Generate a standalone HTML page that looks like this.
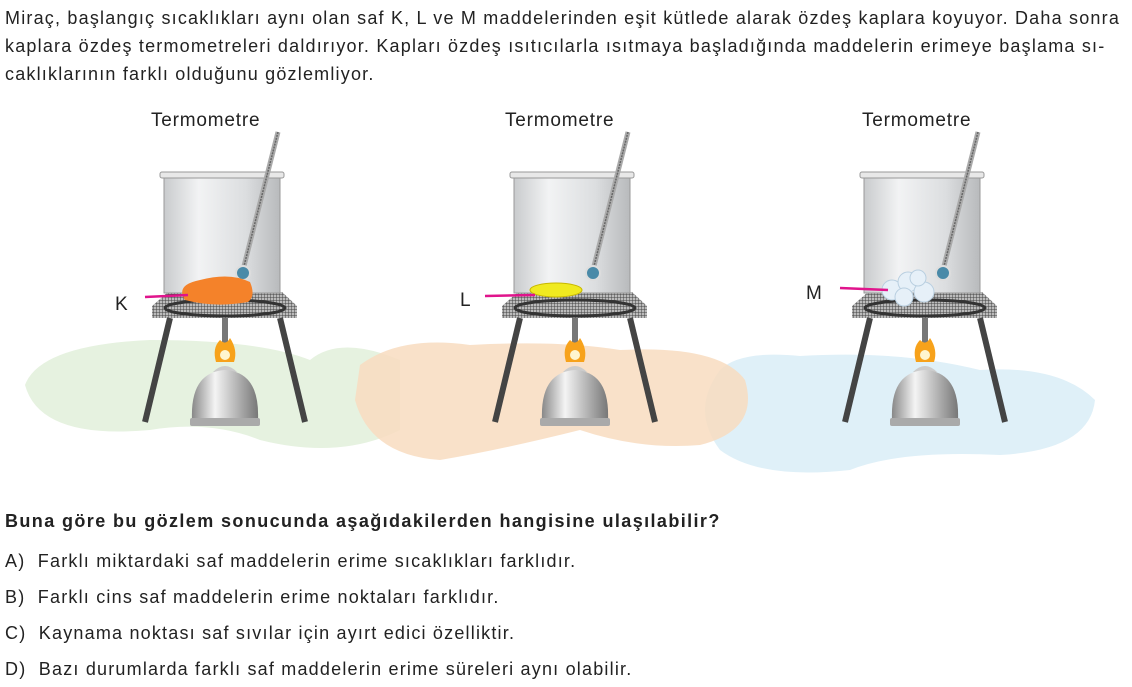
<!DOCTYPE html>
<html><head><meta charset="utf-8"><style>
body{margin:0;width:1132px;height:687px;background:#fff;font-family:"Liberation Sans",Arial,sans-serif;color:#222;position:relative;overflow:hidden}
.p{position:absolute;left:5px;font-size:18px;line-height:28px;white-space:nowrap;letter-spacing:1.2px}
</style></head><body>
<div class="p" style="top:4px">Miraç, başlangıç sıcaklıkları aynı olan saf K, L ve M maddelerinden eşit kütlede alarak özdeş kaplara koyuyor. Daha sonra</div>
<div class="p" style="top:32px">kaplara özdeş termometreleri daldırıyor. Kapları özdeş ısıtıcılarla ısıtmaya başladığında maddelerin erimeye başlama sı-</div>
<div class="p" style="top:60px">caklıklarının farklı olduğunu gözlemliyor.</div>
<svg style="position:absolute;left:0;top:0" width="1132" height="500">
<defs>
<linearGradient id="gl" x1="0" x2="1"><stop offset="0" stop-color="#c9cbcd"/><stop offset=".3" stop-color="#f2f3f4"/><stop offset=".7" stop-color="#dcdee0"/><stop offset="1" stop-color="#b8babc"/></linearGradient>
<linearGradient id="bn" x1="0" x2="1"><stop offset="0" stop-color="#888"/><stop offset=".35" stop-color="#f4f4f4"/><stop offset="1" stop-color="#777"/></linearGradient>
<pattern id="mesh" width="3" height="3" patternUnits="userSpaceOnUse"><rect width="3" height="3" fill="#bbb"/><path d="M0 0H3M0 0V3" stroke="#444" stroke-width="1"/></pattern>
<g id="app">
<polygon points="152,306 168,292 282,292 297,306 297,318 152,318" fill="url(#mesh)"/>
<ellipse cx="225" cy="308" rx="60" ry="8" fill="none" stroke="#333" stroke-width="3"/>
<line x1="170" y1="318" x2="145" y2="422" stroke="#444" stroke-width="6"/>
<line x1="280" y1="318" x2="305" y2="422" stroke="#444" stroke-width="6"/>
<rect x="222" y="318" width="6" height="28" fill="#777"/>
<rect x="164" y="175" width="116" height="118" fill="url(#gl)" stroke="#999"/>
<rect x="160" y="172" width="124" height="6" rx="2" fill="#e8e8e8" stroke="#999"/>
<line x1="278" y1="132" x2="243" y2="270" stroke="#aaa" stroke-width="5"/>
<line x1="278" y1="132" x2="243" y2="270" stroke="#666" stroke-width="1.5" stroke-dasharray="2 1"/>
<circle cx="243" cy="273" r="7" fill="#4a8aa8" stroke="#ddd" stroke-width="2"/>
<path d="M216 362 Q212 348 220 340 Q226 346 230 338 Q238 350 234 362Z" fill="#f7a21b"/>
<circle cx="225" cy="355" r="5" fill="#fff6d0"/>
<path d="M213 372 Q225 360 237 372Z" fill="#ccc"/>
<path d="M192 420 Q190 372 225 370 Q260 372 258 420Z" fill="url(#bn)"/>
<rect x="190" y="418" width="70" height="8" rx="2" fill="#aaa"/>
</g>
</defs>
<path d="M25 385 Q40 345 150 340 Q260 340 310 360 Q340 335 400 360 L400 430 Q340 460 260 440 Q210 420 150 430 Q40 440 25 385Z" fill="#e6f2e0"/>
<path d="M720 370 Q740 350 800 356 Q900 350 980 370 Q1060 365 1095 400 Q1090 450 1000 455 Q900 450 850 470 Q760 480 720 450 Q690 410 720 370Z" fill="#dff0f8"/>
<path d="M360 365 Q400 335 470 345 Q560 340 620 350 Q720 345 745 380 Q760 430 700 445 Q640 450 580 430 Q500 450 440 460 Q370 455 355 400Z" fill="#f8dcc0" fill-opacity=".85"/>
<use href="#app"/>
<use href="#app" x="350"/>
<use href="#app" x="700"/>
<path d="M185 300 Q175 285 200 280 Q230 272 250 282 Q256 296 248 302 Q215 308 185 300Z" fill="#f4822a"/>
<ellipse cx="556" cy="290" rx="26" ry="7" fill="#f0ea20" stroke="#c8b800"/>
<g fill="#e6f0f8" stroke="#b9cfe0"><circle cx="892" cy="290" r="10"/><circle cx="908" cy="282" r="10"/><circle cx="924" cy="292" r="10"/><circle cx="904" cy="297" r="9"/><circle cx="918" cy="278" r="8"/></g>
<line x1="145" y1="297" x2="188" y2="295" stroke="#e0148c" stroke-width="2.5"/>
<line x1="485" y1="296" x2="535" y2="295" stroke="#e0148c" stroke-width="2.5"/>
<line x1="840" y1="288" x2="888" y2="290" stroke="#e0148c" stroke-width="2.5"/>
<g font-family="Liberation Sans,Arial,sans-serif" font-size="19" fill="#222" letter-spacing="0.8">
<text x="151" y="126">Termometre</text><text x="505" y="126">Termometre</text><text x="862" y="126">Termometre</text>
<text x="115" y="310">K</text><text x="460" y="306">L</text><text x="806" y="299">M</text>
</g>
</svg>
<div class="p" style="top:507px;font-weight:bold;letter-spacing:1.4px">Buna göre bu gözlem sonucunda aşağıdakilerden hangisine ulaşılabilir?</div>
<div class="p" style="top:547px">A)&nbsp; Farklı miktardaki saf maddelerin erime sıcaklıkları farklıdır.</div>
<div class="p" style="top:583px">B)&nbsp; Farklı cins saf maddelerin erime noktaları farklıdır.</div>
<div class="p" style="top:619px">C)&nbsp; Kaynama noktası saf sıvılar için ayırt edici özelliktir.</div>
<div class="p" style="top:655px">D)&nbsp; Bazı durumlarda farklı saf maddelerin erime süreleri aynı olabilir.</div>
</body></html>
